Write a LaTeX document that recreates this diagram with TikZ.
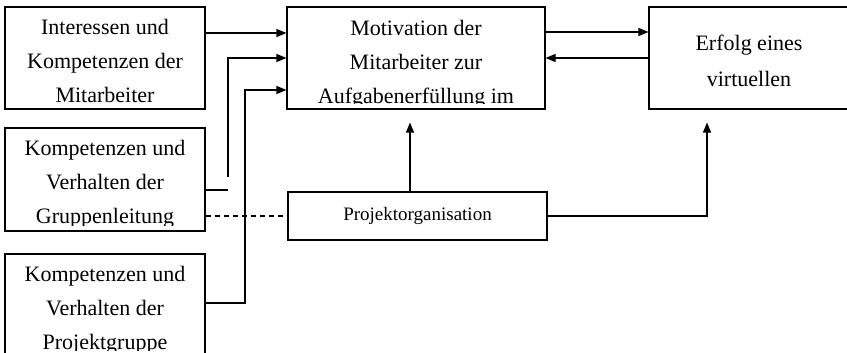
\documentclass[tikz,border=0pt]{standalone}
\usepackage{fontspec}
\setmainfont{Liberation Serif}
\usetikzlibrary{arrows.meta}
\tikzstyle{box}=[draw,line width=1.1pt,inner sep=0pt,minimum height=102pt]
\tikzstyle{txt}=[anchor=base,inner sep=0pt]
\tikzstyle{conn}=[line width=1.1pt,-{Triangle[length=10pt,width=8pt]}]
\newcommand{\boxlines}[2]{\parbox[t]{260pt}{\centering\fontsize{22}{#1}\selectfont #2}}

\begin{document}
\begin{tikzpicture}[x=1pt,y=1pt]
\useasboundingbox (0,0) rectangle (847,-353);

%boxes
\node[box,minimum width=200pt] (interessen) at (105,-58) {};
\node[box,minimum width=200pt,minimum height=103pt] (leitung) at (105,-179.5) {};
\node[box,minimum width=200pt] (gruppe) at (105,-305) {};
\node[box,minimum width=258pt] (motivation) at (416,-58) {};
\node[box,minimum width=200pt] (erfolg) at (749,-58) {};
\node[box,minimum width=259pt,minimum height=48pt,font=\fontsize{19}{22}\selectfont] (orga) at (417.5,-216) {Projektorganisation};

%texts, cut off at the lower edge
\foreach \b/\s/\p/\t in {interessen/28/34/{Interessen und\\Kompetenzen der\\Mitarbeiter},
    leitung/28/34/{Kompetenzen und\\Verhalten der\\Gruppenleitung},
    gruppe/28/34/{Kompetenzen und\\Verhalten der\\Projektgruppe},
    motivation/29/34/{Motivation der\\Mitarbeiter zur\\Aufgabenerf\"ullung im},
    erfolg/44/36/{Erfolg eines\\virtuellen}}{
  \begin{scope}
  \clip (\b.north west) rectangle ([yshift=6pt]\b.south east);
  \node[txt] at ([yshift=-\s pt]\b.north) {\boxlines{\p}{\t}};
  \end{scope}
}

%connectors
\coordinate (knick1) at (228,-177);
\coordinate (knick1a) at (228,-190);
\coordinate (knick2) at (245,-90);
\draw[conn] ([yshift=25pt]interessen.east) -- ([yshift=25pt]motivation.west);
\draw[conn] (knick1) |- (motivation.west);
\draw[line width=1.1pt] ([yshift=-10.5pt]leitung.east) -- (knick1a);
\draw[conn] ([yshift=2pt]gruppe.east) -| (knick2) -- ([yshift=-32pt]motivation.west);
\draw[line width=1.1pt,dash pattern=on 5pt off 4pt] ([yshift=-36.5pt]leitung.east) -- (orga.west);
\draw[conn,shorten >=13pt] ([xshift=-7.5pt]orga.north) -- ([xshift=-7.5pt]orga.north |- motivation.south);
\draw[conn,shorten >=13pt] (orga.east) -| ([xshift=-42pt]erfolg.south);
\draw[conn] ([yshift=26pt]motivation.east) -- ([yshift=26pt]erfolg.west);
\draw[conn] (erfolg.west) -- (motivation.east);

\end{tikzpicture}
\end{document}
